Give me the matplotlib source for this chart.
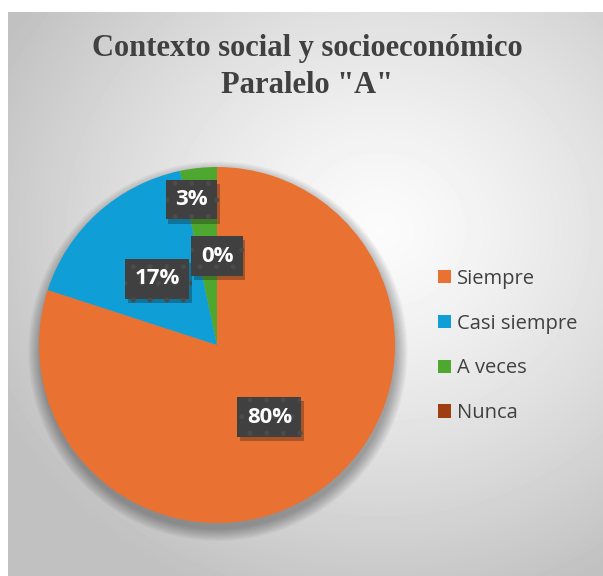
import numpy as np
import matplotlib.pyplot as plt
from matplotlib import patheffects as pe
from matplotlib.patches import Circle

categorias = ["Siempre", "Casi siempre", "A veces", "Nunca"]
frecuencias = [24, 5, 1, 0]
porcentajes = ["80%", "17%", "3%", "0%"]
colores = ["#E97132", "#0F9ED5", "#4EA72E", "#9E3D12"]
titulo = 'Contexto social y socioeconómico\nParalelo "A"'

# posicion de las etiquetas (fraccion del radio, giro en grados)
label_radio = [0.5, 0.5, 0.83, 0.5]
label_giro = [0, 0, 4, 0]

W, H = 603, 576
fig = plt.figure(figsize=(W / 100, H / 100), dpi=100)
plt.rcParams['hatch.linewidth'] = 1.2

# fondo con degradado radial
bg = fig.add_axes([8 / W, 0, 1 - 8 / W, 1 - 12 / H])
yy, xx = np.mgrid[12:H, 8:W]
d = np.hypot(xx - 380, (yy - 230) * 1.1) / 430
v = 0.985 - 0.23 * np.clip(d, 0, 1) ** 1.3
bg.imshow(v, cmap='gray', vmin=0, vmax=1, aspect='auto', interpolation='bilinear')
bg.axis('off')

# pastel
cx, cy, r = 217, 345, 178
ax = fig.add_axes([(cx - r) / W, (H - cy - r) / H, 2 * r / W, 2 * r / H])
# sombra difusa del pastel
for k in range(12):
    ax.add_patch(Circle((0.005, -0.035), 1.0 + 0.006 * k, fc='black', ec='none',
                        alpha=0.028, zorder=0, clip_on=False))
wedges, _ = ax.pie(frecuencias, colors=colores, startangle=90, counterclock=False,
                   radius=1, wedgeprops=dict(linewidth=0, zorder=1))
ax.set_xlim(-1, 1)
ax.set_ylim(-1, 1)
ax.axis('off')

for w, txt, rr, g in zip(wedges, porcentajes, label_radio, label_giro):
    ang = np.deg2rad((w.theta1 + w.theta2) / 2 + g)
    t = ax.text(rr * np.cos(ang), rr * np.sin(ang), txt, ha='center', va='center',
                fontsize=16, fontweight='bold', family='Open Sans', color='white', zorder=5,
                bbox=dict(boxstyle='square,pad=0.42', fc='#404040', ec='#4b4b4b', lw=0,
                          hatch='.'))
    t.get_bbox_patch().set_path_effects([pe.SimplePatchShadow(offset=(2, -3), alpha=0.3),
                                         pe.Normal()])

# titulo
fig.text(307 / W, 1 - 67 / H, titulo, ha='center', va='center', fontsize=22,
         fontweight='bold', family='Liberation Serif', color='#404040', linespacing=1.32)

# leyenda
fig.legend(wedges, categorias, loc='center left', bbox_to_anchor=(438 / W, 1 - 346 / H),
           frameon=False, borderpad=0, borderaxespad=0, handlelength=0.65, handleheight=0.65,
           handletextpad=0.3, labelspacing=1.23,
           prop={'family': 'Open Sans', 'size': 14.5}, labelcolor='#404040')

fig.savefig('out.png', dpi=100)
